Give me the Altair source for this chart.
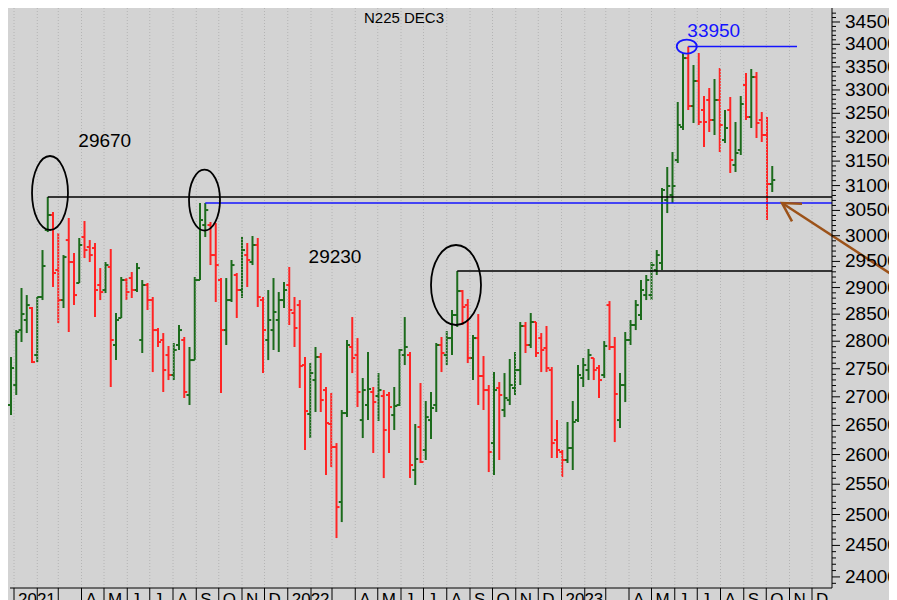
import altair as alt
import pandas as pd

# ---- weekly OHLC, first bar = week of 2020-12-28 ----
highs = [27712, 28205, 28991, 28858, 28633, 28821, 29720, 30769, 30468, 30053,
         29623, 30349, 29662, 29955, 30290, 29915, 29857, 29372, 29488, 29740,
         28521, 29201, 29181, 29296, 29469, 29143, 29086, 28821, 28243, 28150,
         27912, 27967, 28298, 28077, 27894, 29201, 30648, 30648, 30270, 30250,
         29181, 29181, 29527, 29277, 29974, 29857, 29994, 29955, 28821, 28953,
         29181, 28915, 29105,
         29392, 28821, 28764, 27712, 27603, 27894, 27785, 27174, 27067, 26196,
         26768, 28022, 28446, 28058, 27334, 27803, 27174, 27423, 27120, 27085,
         27174, 27858, 28446, 27803, 26524, 27245, 26926, 27085, 27967, 28077,
         28187, 28577, 29315, 28953, 28783, 28113, 28502, 27730, 27209, 27441,
         27262, 27423, 27676, 27803, 28354, 28354, 28521, 28354, 28150, 28280,
         27531, 26593, 26077, 26559, 26926, 27567, 27694, 27858, 27694, 27567,
         28003, 28745, 28077, 27423, 28169, 28391, 28764, 29143, 29239, 29488,
         29720, 30951, 31379, 31688, 32741, 33807, 33950, 33543, 33807, 32870,
         33042, 33237, 33477, 32570, 32848, 32316, 32870, 33368, 33455, 33389,
         32528, 32421, 31399]
lows = [26680, 27032, 27985, 28150, 27603, 27621, 28764, 30072, 29010, 28335,
        28614, 28169, 28670, 29086, 29565, 29488, 28446, 28764, 28896, 27174,
        27657, 28428, 28764, 28802, 28915, 27785, 28577, 27441, 27894, 27085,
        27298, 27298, 27839, 26979, 26856, 27657, 29143, 29974, 29430, 28727,
        27067, 27931, 28727, 28428, 28802, 29010, 29430, 28633, 27423, 27657,
        27839, 27803, 28614,
        28298, 27894, 27156, 26077, 26282, 26733, 26733, 25654, 25788, 24618,
        24877, 26645, 27423, 26820, 26282, 26593, 26026, 26576, 25603, 26026,
        26420, 26838, 27567, 25603, 25487, 25856, 25907, 26265, 26733, 27441,
        27567, 27748, 28261, 28298, 27603, 27298, 26856, 26768, 25704, 25654,
        25907, 26645, 26856, 27032, 27209, 27785, 27876, 27712, 27441, 27441,
        25941, 25941, 25620, 25856, 25738, 26559, 27174, 27298, 27298, 26979,
        27334, 27839, 26213, 26455, 26908, 27931, 28205, 28391, 28764, 28764,
        29239, 29334, 30448, 30648, 31461, 32147, 32570, 32295, 32253, 31792,
        32105, 32042, 31688, 31875, 31256, 31276, 31626, 32358, 32189, 31979,
        31896, 30309, 30870]
opens = [26856, 27209, 28205, 28391, 28614, 27748, 28821, 30112, 30409, 29334,
         28764, 29915, 29488, 29086, 29974, 29779, 29759, 29048, 28953, 29392,
         27931, 28428, 29143, 29181, 28953, 28022, 29048, 28764, 28205, 28022,
         27748, 27388, 27931, 28022, 27032, 27657, 29143, 30210, 30210, 29623,
         29143, 28205, 28764, 29239, 28953, 29623, 29488, 29818, 28764, 28022,
         28205, 28391, 28764,
         29048, 28521, 28670, 27567, 26698, 27298, 27712, 27120, 26524, 26128,
         25205, 26715, 27894, 27748, 26593, 26856, 27085, 27014, 27014, 27032,
         26680, 26856, 27748, 27748, 25738, 26472, 26077, 26593, 26856, 27931,
         27748, 28058, 28484, 28934, 28670, 27694, 28058, 27370, 27120, 26196,
         27156, 26768, 26943, 27156, 27477, 28280, 27931, 28354, 28058, 27876,
         27477, 26248, 26043, 25907, 26111, 26593, 27334, 27477, 27694, 27513,
         27388, 28670, 27894, 26593, 27209, 28022, 28298, 28484, 28858, 28858,
         29334, 29469, 30708, 30809, 31522, 32210, 33696, 32655, 33194, 32570,
         32784, 32358, 32784, 31937, 32570, 31420, 31729, 33107, 32421, 33280,
         32358, 32042, 31032]
closes = [27513, 28169, 28502, 28670, 27621, 28821, 29411, 30409, 29277, 28764,
          29584, 29488, 28858, 29818, 29720, 29623, 28953, 28915, 29430, 28022,
          28391, 29143, 28915, 28953, 29372, 29048, 28764, 28205, 27985, 27477,
          27388, 27839, 28205, 27085, 27657, 29143, 30309, 30508, 29623, 29430,
          28205, 28764, 29430, 28953, 29720, 29527, 29818, 28821, 28205, 28391,
          28540, 28764, 28953,
          28577, 28243, 27549, 26750, 27423, 27712, 26943, 26541, 26128, 25122,
          26715, 27931, 27694, 27085, 27120, 27138, 26908, 27120, 26420, 26820,
          26838, 27839, 27894, 25822, 25924, 25873, 26645, 26803, 27931, 27785,
          28058, 28484, 28934, 28633, 27694, 28058, 27370, 27120, 26043, 27120,
          27032, 26979, 27209, 27477, 28280, 27931, 28354, 27785, 27839, 27513,
          26196, 26077, 25907, 26111, 26559, 27388, 27567, 27748, 27477, 27298,
          27912, 27894, 27050, 27209, 28022, 28298, 28670, 28953, 29143, 29430,
          29623, 30910, 30991, 30991, 32253, 33696, 32655, 33194, 32316, 32316,
          32358, 32784, 32253, 32189, 31522, 31667, 32698, 32421, 33280, 32295,
          32042, 31032, 31113]

UP = "#1c6b1c"
DOWN = "#ff2424"
BLUE = "#1414ff"
BROWN = "#9c5219"
FONT = "Liberation Sans"

dates = pd.date_range("2020-12-28", periods=len(highs), freq="7D")
df = pd.DataFrame({"date": dates, "high": highs, "low": lows,
                   "open": opens, "close": closes})
df["color"] = [UP if c >= o else DOWN for o, c in zip(opens, closes)]

D_START = "2020-12-26 16:00"
D_END = "2023-12-27 16:00"

# ---- annotation data ----
lvl_start = ["2021-02-15 00:00", "2021-09-13 00:00", "2022-08-15 00:00", "2023-06-19 00:00"]
lvl_end = [D_END, D_END, D_END, "2023-11-11 00:00"]
lvl_price = [30769, 30648, 29315, 33950]
lvl_color = ["black", BLUE, "black", BLUE]
levels = pd.DataFrame({"d1": pd.to_datetime(lvl_start), "d2": pd.to_datetime(lvl_end),
                       "p": lvl_price, "c": lvl_color})

ell_date = ["2021-02-18 00:00", "2021-09-12 00:00", "2022-08-13 08:00", "2023-06-17 00:00"]
ell_price = [30850, 30708, 29048, 33950]
ell_shape = [
    "M -0.486 0 A 0.486 1 0 1 1 0.486 0 A 0.486 1 0 1 1 -0.486 0 Z",
    "M -0.508 0 A 0.508 1 0 1 1 0.508 0 A 0.508 1 0 1 1 -0.508 0 Z",
    "M -0.625 0 A 0.625 1 0 1 1 0.625 0 A 0.625 1 0 1 1 -0.625 0 Z",
    "M -1 0 A 1 0.7 0 1 1 1 0 A 1 0.7 0 1 1 -1 0 Z",
]
ell_size = [5476, 3721, 6400, 400]
ell_color = ["black", "black", "black", BLUE]
ellipses = pd.DataFrame({"d": pd.to_datetime(ell_date), "p": ell_price, "s": ell_shape,
                         "z": ell_size, "c": ell_color})

txt = ["29670", "29230", "33950", "N225 DEC3"]
txt_date = ["2021-05-02 00:00", "2022-03-05 00:00", "2023-07-23 00:00", "2022-06-05 00:00"]
txt_price = [31915, 29584, 34297, 34590]
txt_color = ["black", "black", BLUE, "black"]
txt_size = [19, 19, 19, 15]
texts = pd.DataFrame({"t": txt, "d": pd.to_datetime(txt_date), "p": txt_price,
                      "c": txt_color, "z": txt_size})

arrow = pd.DataFrame({"d1": pd.to_datetime(["2023-10-22 00:00"]), "p1": [30648],
                      "d2": pd.to_datetime(["2024-04-09 00:00"]), "p2": [29029]})

# ---- frame / axis data ----
P_LO, P_HI = 23827, 34817          # price range of the plot area
P_STRIP = 23517                    # bottom of the month strip
P_MLAB = 23760                     # month label level

y_ticks = [24000, 24500, 25000, 25500, 26000, 26500, 27000, 27500, 28000, 28500,
           29000, 29500, 30000, 30500, 31000, 31500, 32000, 32500, 33000, 33500,
           34000, 34500]
yt = pd.DataFrame({"v": y_ticks, "t": [str(v) for v in y_ticks],
                   "d": pd.to_datetime([D_END] * len(y_ticks))})
minor = pd.DataFrame({"v": [v for v in range(23900, 34800, 100) if v % 500 != 0]})

month_labels = ["2021", "", "", "A", "M", "J", "J", "A", "S", "O", "N", "D",
                "2022", "", "", "A", "M", "J", "J", "A", "S", "O", "N", "D",
                "2023", "", "", "A", "M", "J", "J", "A", "S", "O", "N", "D"]
months = pd.DataFrame({"m": pd.date_range("2021-01-01", periods=36, freq="MS"),
                       "t": month_labels,
                       "top": P_HI, "bot": P_LO, "sb": P_STRIP, "ly": P_MLAB})

frame = pd.DataFrame({"d1": pd.to_datetime([D_START]),
                      "d2": pd.to_datetime([D_END]),
                      "p1": [P_LO], "p2": [P_HI]})

xscale = alt.Scale(domain=[alt.DateTime(year=2020, month=12, date=26, hours=16),
                           alt.DateTime(year=2023, month=12, date=27, hours=16)])
yscale = alt.Scale(type="log", domain=[P_LO, P_HI], nice=False)

W, H = 822, 580

base = alt.Chart(df)
bars = base.mark_rule(strokeWidth=2).encode(
    x=alt.X("date:T", scale=xscale, axis=None),
    y=alt.Y("high:Q", scale=yscale, axis=None),
    y2="low:Q",
    color=alt.Color("color:N", scale=None),
)
open_t = base.mark_rule(strokeWidth=2, xOffset=-3, x2Offset=0).encode(
    x="date:T", x2="date:T", y="open:Q", color=alt.Color("color:N", scale=None))
close_t = base.mark_rule(strokeWidth=2, xOffset=0, x2Offset=3).encode(
    x="date:T", x2="date:T", y="close:Q", color=alt.Color("color:N", scale=None))

mc = alt.Chart(months)
grid = mc.mark_rule(color="#b4b4b4", strokeWidth=1, strokeDash=[1, 2]).encode(
    x="m:T", y="top:Q", y2="bot:Q")
sep = mc.mark_rule(color="black", strokeWidth=1, clip=False).encode(
    x="m:T", y="bot:Q", y2="sb:Q")
mlab = mc.mark_text(font=FONT, fontSize=17, align="left", baseline="top",
                    dx=4, color="black").encode(x="m:T", y="ly:Q", text="t:N")

fc = alt.Chart(frame)
xdom = fc.mark_rule(color="black", strokeWidth=1).encode(x="d1:T", x2="d2:T", y="p1:Q")
ydom = fc.mark_rule(color="black", strokeWidth=1).encode(x="d2:T", y="p1:Q", y2="p2:Q")

ymaj = alt.Chart(yt).mark_rule(color="black", strokeWidth=1).encode(
    y="v:Q", x=alt.value(W), x2=alt.value(W + 8))
ymin = alt.Chart(minor).mark_rule(color="black", strokeWidth=1).encode(
    y="v:Q", x=alt.value(W), x2=alt.value(W + 4))
ylab = alt.Chart(yt).mark_text(font=FONT, fontSize=19, align="left", baseline="middle",
                               dx=13, color="black").encode(
    x="d:T", y="v:Q", text="t:N")

lines = alt.Chart(levels).mark_rule(strokeWidth=1.6).encode(
    x="d1:T", x2="d2:T", y="p:Q", color=alt.Color("c:N", scale=None))

ells = alt.Chart(ellipses).mark_point(filled=False, strokeWidth=1.8, opacity=1).encode(
    x="d:T", y="p:Q",
    shape=alt.Shape("s:N", scale=None),
    size=alt.Size("z:Q", scale=None),
    color=alt.Color("c:N", scale=None))

labels = alt.Chart(texts).mark_text(font=FONT, align="center", baseline="middle").encode(
    x="d:T", y="p:Q", text="t:N",
    color=alt.Color("c:N", scale=None), size=alt.Size("z:Q", scale=None))

shaft = alt.Chart(arrow).mark_rule(strokeWidth=2.5, color=BROWN, clip=False).encode(
    x="d1:T", x2="d2:T", y="p1:Q", y2="p2:Q")
head = alt.Chart(arrow).mark_point(
    shape="M 1 0.04 L 0 0 L 0.5 0.92", size=1600, filled=False,
    strokeWidth=2.5, color=BROWN, opacity=1).encode(x="d1:T", y="p1:Q")

chart = alt.layer(
    bars, grid, open_t, close_t, lines, ells, labels, shaft, head,
    xdom, sep, mlab, ydom, ymaj, ymin, ylab
).properties(
    width=W, height=H,
    padding={"left": 2, "top": 0, "right": 57, "bottom": 20},
    autosize=alt.AutoSizeParams(type="none"),
    background="#d3d3d3",
).configure_view(fill="#d3d3d3", strokeWidth=0)

chart.save("out.html", embed_options={"renderer": "svg", "actions": False})
